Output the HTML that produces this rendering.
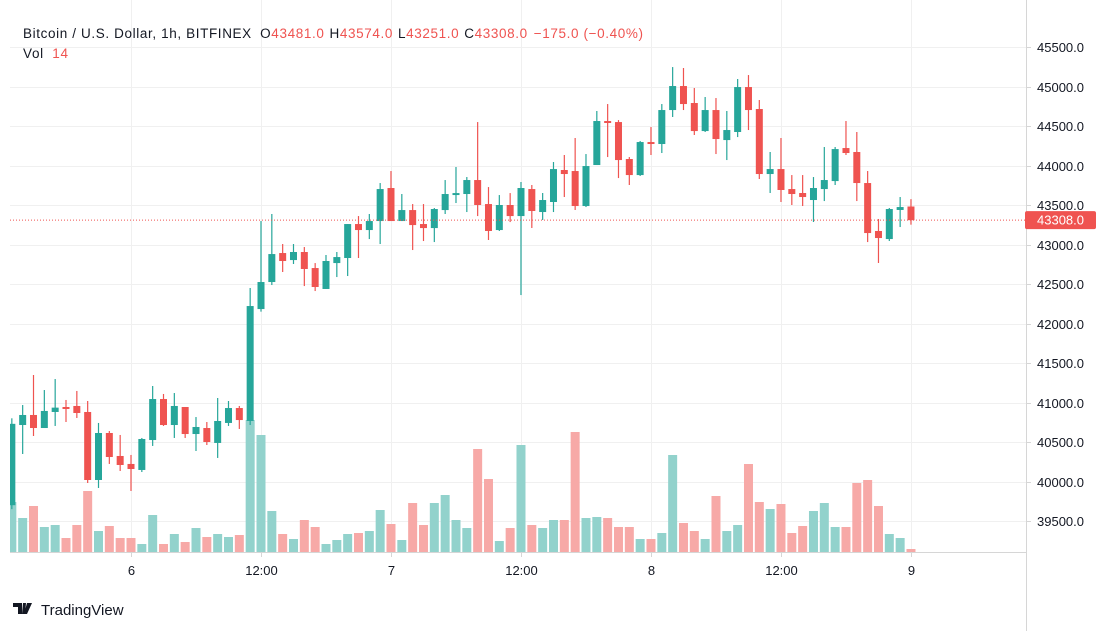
<!DOCTYPE html>
<html><head><meta charset="utf-8">
<style>
html,body{margin:0;padding:0;background:#fff;}
body{width:1113px;height:631px;overflow:hidden;font-family:"Liberation Sans",sans-serif;}
svg{display:block;}
</style></head>
<body>
<svg id="chart" width="1113" height="631" viewBox="0 0 1113 631" xmlns="http://www.w3.org/2000/svg">
  <defs><clipPath id="plotclip"><rect x="10" y="0" width="1016" height="552"/></clipPath></defs>
  <g id="grid"></g>
  <g id="vols" clip-path="url(#plotclip)"></g>
  <g id="candles" clip-path="url(#plotclip)"></g>
  <g id="axes"></g>
  <g font-size="13.5" fill="#131722">
    <text x="23" y="38" textLength="620" lengthAdjust="spacing">Bitcoin / U.S. Dollar, 1h, BITFINEX <tspan dx="4">O</tspan><tspan fill="#ef5350">43481.0</tspan><tspan dx="5">H</tspan><tspan fill="#ef5350">43574.0</tspan><tspan dx="5">L</tspan><tspan fill="#ef5350">43251.0</tspan><tspan dx="5">C</tspan><tspan fill="#ef5350">43308.0</tspan><tspan dx="6" fill="#ef5350">−175.0 (−0.40%)</tspan></text>
    <text x="23" y="58" textLength="45" lengthAdjust="spacing">Vol <tspan dx="4" fill="#ef5350">14</tspan></text>
  </g>
  <g>
    <path d="M13 603h9v11h-4v-7h-5z M23 603h3l-1 11h-3z M27 603h5l-5 11h-3z" fill="#131722"/>
    <text x="41" y="615" font-size="15" fill="#131722">TradingView</text>
  </g>
</svg>
<script>
const hours = [-11,-10,-9,-8,-7,-6,-5,-4,-3,-2,-1,0,1,2,3,4,5,6,7,8,9,10,11,12,13,14,15,16,17,18,19,20,21,22,23,24,25,26,27,28,29,30,31,32,33,34,35,36,37,38,39,40,41,42,43,44,45,46,47,48,49,50,51,52,53,54,55,56,57,58,59,60,61,62,63,64,65,66,67,68,69,70,71,72];
const opens = [39700,40715,40842,40677,40880,40943,40956,40880,40019,40614,40323,40222,40146,40525,41044,40715,40943,40601,40677,40488,40741,40930,40766,42183,42525,42892,42803,42905,42702,42437,42765,42829,43259,43183,43297,43715,43297,43436,43259,43208,43436,43626,43639,43816,43512,43183,43500,43360,43702,43411,43538,43943,43930,43487,44006,44563,44550,44082,43879,44297,44272,44702,45006,44791,44436,44702,44322,44424,44993,44715,43892,43955,43702,43652,43563,43702,43803,44221,44171,43778,43171,43069,43437,43481];
const highs = [40800,40968,41348,41158,41297,41032,41146,41019,40741,40639,40589,40336,40551,41209,41108,41120,40943,40816,40753,41057,41019,40956,42449,43297,43386,43006,43006,42968,42765,42867,42905,43259,43360,43386,43778,43930,43639,43512,43512,43462,43816,43981,43854,44550,43727,43626,43651,43791,43753,43652,44044,44133,44348,44145,44690,44778,44575,44107,44310,44487,44778,45246,45234,44981,44867,44854,44690,45095,45145,44829,44171,44348,43879,43879,43854,44234,44234,44563,44424,43930,43323,43462,43601,43574];
const lows = [39650,40348,40576,40677,40703,40753,40804,39981,39918,40222,40133,39880,40120,40450,40703,40551,40551,40386,40462,40298,40703,40665,40715,42150,42487,42652,42753,42474,42411,42437,42588,42601,42829,43069,43006,43297,43297,42930,43044,43031,43386,43525,43411,43360,43057,43171,43284,42360,43209,43310,43411,43601,43437,43474,44006,44107,43841,43753,43867,44133,44158,44614,44702,44386,44424,44145,44069,44360,44449,43829,43652,43538,43500,43487,43285,43550,43753,44133,43550,43031,42766,43044,43221,43251];
const closes = [40730,40842,40677,40893,40935,40918,40867,40019,40614,40310,40209,40158,40538,41044,40715,40956,40601,40690,40500,40766,40930,40778,42221,42525,42879,42791,42905,42690,42462,42791,42841,43259,43183,43297,43702,43297,43436,43246,43208,43449,43639,43651,43816,43500,43171,43500,43360,43715,43424,43563,43955,43892,43487,43993,44563,44538,44069,43879,44297,44272,44702,45006,44778,44436,44702,44335,44449,44993,44702,43892,43955,43690,43639,43601,43715,43816,44208,44158,43778,43145,43082,43449,43474,43308];
const volumes = [50,34,46,25,27,14,27,61,21,26,14,14,8,37,8,18,10,24,15,18,15,17,132,117,41,18,13,32,25,8,12,18,19,21,42,28,12,49,27,49,57,32,24,103,73,11,24,107,27,24,32,32,120,34,35,34,25,25,13,13,19,97,29,21,13,56,21,27,88,50,43,48,19,26,41,49,25,25,69,72,46,18,14,3];
const priceTicks = [39500,40000,40500,41000,41500,42000,42500,43000,43500,44000,44500,45000,45500];
const timeTickHours = [0,12,24,36,48,60,72];
const timeTickLabels = ["6","12:00","7","12:00","8","12:00","9"];
const lastPrice = 43308;

const NS="http://www.w3.org/2000/svg";
const xOf = h => 131 + h*10.833;
const yOf = p => 47 + (45500-p)*0.079;
const vH = v => v*1.0;
const BASE = 552;
function mk(tag, attrs, parent){const e=document.createElementNS(NS,tag);for(const k in attrs)e.setAttribute(k,attrs[k]);parent.appendChild(e);return e;}
const grid=document.getElementById('grid'), vols=document.getElementById('vols'), cg=document.getElementById('candles'), axes=document.getElementById('axes');

priceTicks.forEach(p=>{
  const y=Math.round(yOf(p))+0.5;
  const l=mk('line',{x1:10,x2:1026,y1:y,y2:y,stroke:'#f0f0f0','stroke-width':1},grid);
  
  
  const t=mk('line',{x1:1026,x2:1031,y1:y,y2:y,stroke:'#d6d6d6'},axes);
  
  
  const tx=mk('text',{x:1037,y:y+4.5,'font-size':13,fill:'#131722'},axes);
  tx.textContent=p.toFixed(1);
  
  
});
timeTickHours.forEach((h,i)=>{
  const x=Math.round(xOf(h))+0.5;
  const l=mk('line',{x1:x,x2:x,y1:0,y2:552,stroke:'#f0f0f0'},grid);
  
  
  const t=mk('line',{x1:x,x2:x,y1:552,y2:557,stroke:'#d6d6d6'},axes);
  
  
  const tx=mk('text',{x:x,y:575,'font-size':13,fill:'#131722','text-anchor':'middle'},axes);
  tx.textContent=timeTickLabels[i];
  
  
});
const ax1=mk('line',{x1:10,x2:1026,y1:552.5,y2:552.5,stroke:'#d6d6d6'},axes);


const ax2=mk('line',{x1:1026.5,x2:1026.5,y1:0,y2:631,stroke:'#d6d6d6'},axes);



hours.forEach((h,i)=>{
  const x=xOf(h), up=closes[i]>=opens[i];
  const vh=vH(volumes[i]);
  const vb=mk('rect',{x:x-4.5,y:BASE-vh,width:9,height:vh,fill:up?'#92d2cc':'#f7a9a7'},vols);
  
  
  const col=up?'#26a69a':'#ef5350';
  const g=mk('g',{},cg);
  
  
  mk('line',{x1:x,x2:x,y1:yOf(highs[i]),y2:yOf(lows[i]),stroke:col,'stroke-width':1.2},g);
  const top=yOf(Math.max(opens[i],closes[i])), bot=yOf(Math.min(opens[i],closes[i]));
  mk('rect',{x:x-3.5,y:top,width:7,height:Math.max(1,bot-top),fill:col},g);
});

const ly=yOf(lastPrice);
const pl=mk('line',{x1:10,x2:1026,y1:ly,y2:ly,stroke:'#ef5350','stroke-width':1,'stroke-dasharray':'1 2'},axes);


const pb=mk('rect',{x:1025,y:ly-9,width:71,height:18,rx:2,fill:'#ef5350'},axes);


const pt=mk('text',{x:1037,y:ly+4.5,'font-size':13,fill:'#fff'},axes);
pt.textContent=lastPrice.toFixed(1);


</script>
</body></html>
